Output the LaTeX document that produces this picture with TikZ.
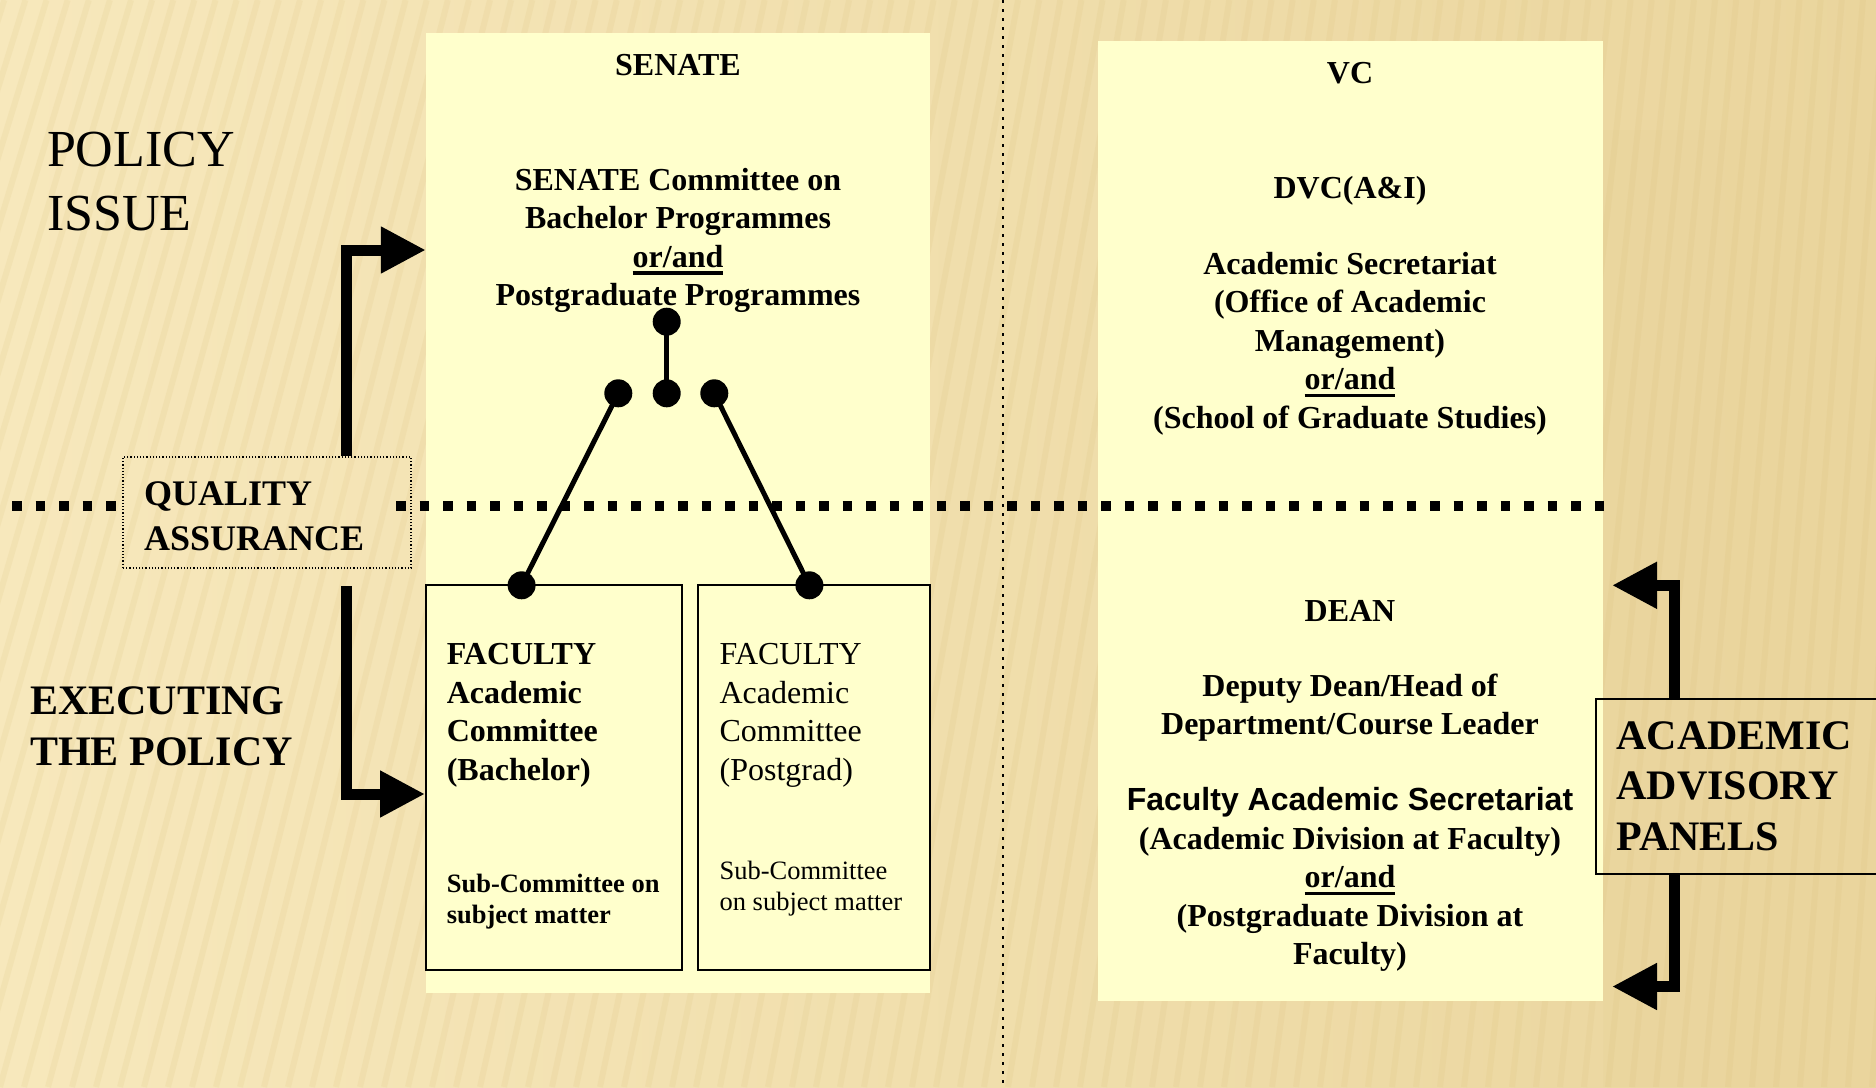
\documentclass[tikz,border=0pt]{standalone}
\usepackage{fontspec}
\setmainfont{Liberation Serif}
\newfontfamily\arialfont{Liberation Sans}
\usetikzlibrary{arrows.meta}

\definecolor{bgleft}{HTML}{F7E8BC}
\definecolor{bgright}{HTML}{EAD59D}
\definecolor{panelfill}{HTML}{FFFFCC}
\definecolor{stripecol}{HTML}{D9BE78}

% fat underline for the or/and lines
\newcommand\ulfat[1]{\setbox0\hbox{#1}\rlap{\rule[-7.5pt]{\wd0}{3.5pt}}\box0}

\tikzset{
  panel/.style={fill=panelfill, inner sep=0pt},
  facbox/.style={draw, line width=2pt, fill=panelfill, inner sep=0pt},
  body/.style={font=\bfseries\fontsize{32}{38.5}\selectfont, align=center, inner sep=0pt, yshift=-2.5pt},
  small/.style={font=\fontsize{26.5}{31.5}\selectfont, align=left, inner sep=0pt, anchor=west, yshift=-2.5pt},
  knob/.style={circle, fill, inner sep=0pt, minimum size=28pt},
  link/.style={line width=5pt},
  bigarrow/.style={line width=11pt, line join=miter, -{Triangle[length=45pt,width=44pt]}},
  divider/.style={line width=10pt, dash pattern=on 9.5pt off 14pt},
  midline/.style={line width=2.5pt, dash pattern=on 2.5pt off 6.5pt},
}

\begin{document}
\begin{tikzpicture}[x=1pt, y=-1pt]
  \useasboundingbox (0,0) rectangle (1876,1087);
  % background
  \shade[left color=bgleft, right color=bgright] (0,0) rectangle (1876,1087);
  \fill[bgright, opacity=.5] (1603,130) rectangle (1876,1087);
  \begin{scope}
    \clip (0,0) rectangle (1876,1087);
    \foreach \i in {-360,-336,...,1876}
      \draw[stripecol, line width=6pt, opacity=.14] (\i,1087) -- (\i+300-0.12*\i,0);
  \end{scope}

  % split between the two columns
  \draw[midline] (1003,0) -- (1003,1087);

  % panels and faculty boxes
  \node[panel, minimum width=504pt, minimum height=960pt] (senatebg) at (678,513) {};
  \node[panel, minimum width=505pt, minimum height=960pt] (vcbg) at (1350.5,521) {};
  \node[facbox, minimum width=256pt, minimum height=385pt] (fac1) at (554,777.5) {};
  \node[facbox, minimum width=232pt, minimum height=385pt] (fac2) at (814,777.5) {};

  % policy / executing border
  \coordinate (divA) at (12,506);
  \coordinate (divB) at (117,506);
  \coordinate (divC) at (396,506);
  \coordinate (divD) at (1607,506);
  \draw[divider] (divA) -- (divB);
  \draw[divider] (divC) -- (divD);

  % left column
  \node[body] (senate) at (678,63) {SENATE};
  \node[body] (senatecom) at (678,238) {SENATE Committee on\\Bachelor Programmes\\\ulfat{or/and}\\Postgraduate Programmes};
  \node[body, align=left, anchor=west] (fac1txt) at (446.6,712.6) {FACULTY\\Academic\\Committee\\(Bachelor)};
  \node[small, font=\bfseries\fontsize{26.5}{31.5}\selectfont] (sub1) at (446.6,899) {Sub-Committee on\\subject matter};
  \node[body, font=\fontsize{32}{38.5}\selectfont, align=left, anchor=west] (fac2txt) at (719.4,712.6) {FACULTY\\Academic\\Committee\\(Postgrad)};
  \node[small] (sub2) at (719.4,886) {Sub-Committee\\on subject matter};

  % right column
  \node[body] (vc) at (1350,71) {VC};
  \node[body] (dvc) at (1350,188) {DVC(A\&I)};
  \node[body] (acsec) at (1350,341) {Academic Secretariat\\(Office of Academic\\Management)\\\ulfat{or/and}\\(School of Graduate Studies)};
  \node[body] (dean) at (1350,608) {DEAN};
  \node[body] (deputy) at (1350,705) {Deputy Dean/Head of\\Department/Course Leader};
  \node[body] (facsec) at (1350,877) {{\arialfont Faculty Academic Secretariat}\\(Academic Division at Faculty)\\\ulfat{or/and}\\(Postgraduate Division at\\Faculty)};

  % side labels
  \node[font=\fontsize{52}{64}\selectfont, align=left, anchor=west, inner sep=0pt] (policy) at (46.8,182) {POLICY\\ISSUE};
  \node[font=\bfseries\fontsize{42}{51}\selectfont, align=left, anchor=west, inner sep=0pt] (exec) at (30,726) {EXECUTING\\THE POLICY};
  \node[draw, line width=1.2pt, dotted, minimum width=288pt, minimum height=111pt] (qa) at (267,512.5) {};
  \node[font=\bfseries\fontsize{36}{45}\selectfont, align=left, anchor=west, inner sep=0pt] (qatxt) at (144,516) {QUALITY\\ASSURANCE};
  \node[draw, line width=2pt, anchor=west, minimum width=290pt, minimum height=175pt,
        text width=249pt, inner xsep=20.5pt, inner ysep=0pt, align=left,
        font=\bfseries\fontsize{42}{50.5}\selectfont] (aap) at (1595,786.2) {ACADEMIC\\ADVISORY\\PANELS};

  % committee links
  \node[knob] (top) at (666.7,321.7) {};
  \node[knob] (mid) at (666.7,393.3) {};
  \node[knob] (left) at (618.3,393.3) {};
  \node[knob] (right) at (714.3,393.3) {};
  \node[knob] (bach) at (521.6,585.3) {};
  \node[knob] (pg) at (809.4,585.3) {};
  \draw[link] (top.center) -- (mid.center);
  \draw[link] (left.center) -- (bach.center);
  \draw[link] (right.center) -- (pg.center);

  % flow arrows
  \coordinate (qaline) at (346,0);
  \coordinate (upturn) at (346,250);
  \coordinate (downstart) at (346,586);
  \coordinate (downturn) at (346,794);
  \draw[bigarrow] (qa.north -| qaline) |- (senatebg.west |- upturn);
  \draw[bigarrow] (downstart) |- (fac1.west |- downturn);

  \coordinate (advline) at (1674,0);
  \coordinate (advtop) at (1612,585.3);
  \coordinate (advbot) at (1612,986.5);
  \draw[bigarrow] (aap.north -| advline) |- (advtop);
  \draw[bigarrow] (aap.south -| advline) |- (advbot);
\end{tikzpicture}
\end{document}
